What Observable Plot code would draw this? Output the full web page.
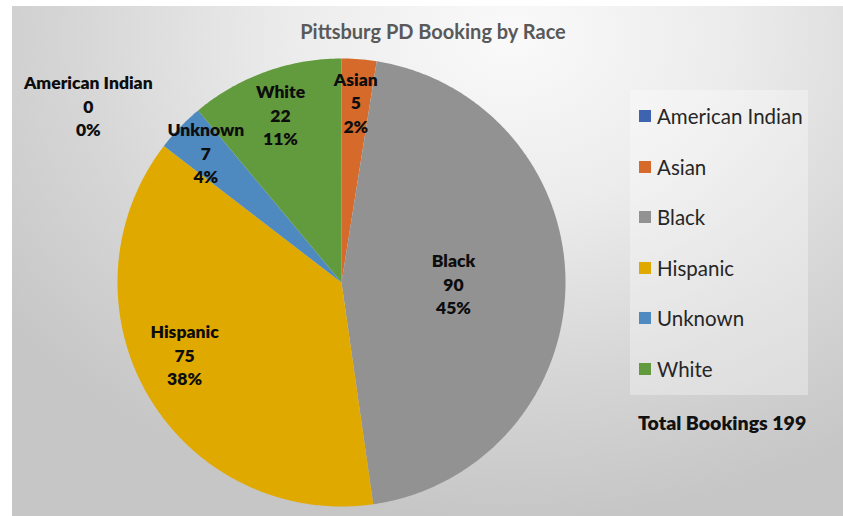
<!DOCTYPE html>
<html><head><meta charset="utf-8">
<script src="https://cdn.jsdelivr.net/npm/d3@7"></script>
<script src="https://cdn.jsdelivr.net/npm/@observablehq/plot@0.6"></script>
<style>
body{margin:0;background:#fff;font-family:Lato,"Open Sans",sans-serif}
#wrap{position:relative;width:843px;height:516px;overflow:hidden;background:#fff}
#bg{position:absolute;left:12px;top:6px;width:831px;height:510px;
  background:radial-gradient(ellipse 75% 95% at 60% 6%, #fafafa 0%, #ececec 35%, #d6d6d6 70%, #c6c6c6 100%)}
#title{position:absolute;left:233px;width:400px;top:18px;text-align:center;font-weight:700;font-size:20px;color:#595959;line-height:26px}
#chart{position:absolute;left:0;top:0}
#legend{position:absolute;left:630px;top:90px;width:178px;height:305px;background:rgba(255,255,255,.32)}
.item{position:absolute;left:9px;height:24px;display:flex;align-items:center;font-size:20.5px;color:#262626;white-space:nowrap}
.sw{width:12px;height:12px;margin-right:6px;flex:none}
#total{position:absolute;left:638px;top:410px;font-weight:800;font-size:19.5px;color:#111;white-space:nowrap;line-height:26px}
</style></head>
<body>
<div id="wrap">
  <div id="bg"></div>
  <div id="title"></div>
  <div id="chart"></div>
  <div id="legend"></div>
  <div id="total"></div>
</div>
<script>
const chartTitle = "Pittsburg PD Booking by Race";
const categories = ["American Indian", "Asian", "Black", "Hispanic", "Unknown", "White"];
const bookings = [0, 5, 90, 75, 7, 22];
const percentLabels = ["0%", "2%", "45%", "38%", "4%", "11%"];
const totalLabel = "Total Bookings 199";
const sliceColors = ["#3E63B0", "#D56A2B", "#929292", "#E0A900", "#4E89BF", "#629B3E"];

// label placement (layout only): radius factor and optional angle override (degrees clockwise from top)
const labelPlacement = {
  "American Indian": {r: 1.38, angle: 305},
  "Asian": {r: 0.81},
  "Black": {r: 0.5},
  "Hispanic": {r: 0.77, angle: 245.5},
  "Unknown": {r: 0.84},
  "White": {r: 0.80}
};

document.getElementById("title").textContent = chartTitle;
document.getElementById("total").textContent = totalLabel;

const rows = categories.map((c, i) => ({category: c, value: bookings[i], pct: percentLabels[i]}));
const arcs = d3.pie().sort(null).value(d => d.value).startAngle(0).endAngle(2 * Math.PI)(rows);

// slice polygons built from the pie angles
const slicePoints = [];
arcs.forEach(a => {
  if (a.endAngle - a.startAngle <= 0) return;
  const cat = a.data.category;
  slicePoints.push({category: cat, x: 0, y: 0});
  const n = Math.max(2, Math.ceil((a.endAngle - a.startAngle) / (Math.PI / 360)));
  for (let k = 0; k <= n; k++) {
    const t = a.startAngle + (a.endAngle - a.startAngle) * k / n;
    slicePoints.push({category: cat, x: Math.sin(t), y: Math.cos(t)});
  }
});

const labels = arcs.map(a => {
  const p = labelPlacement[a.data.category];
  const ang = p.angle != null ? p.angle * Math.PI / 180 : (a.startAngle + a.endAngle) / 2;
  return {
    category: a.data.category,
    x: p.r * Math.sin(ang),
    y: p.r * Math.cos(ang),
    text: `${a.data.category}\n${a.data.value}\n${a.data.pct}`
  };
});

const plot = Plot.plot({
  width: 843,
  height: 516,
  marginLeft: 117,
  marginRight: 278,
  marginTop: 58,
  marginBottom: 10,
  style: {background: "transparent", fontFamily: "Lato, sans-serif", overflow: "visible"},
  x: {domain: [-1, 1], axis: null},
  y: {domain: [-1, 1], axis: null},
  color: {domain: categories, range: sliceColors},
  marks: [
    Plot.line(slicePoints, {x: "x", y: "y", z: "category", fill: "category", stroke: null, curve: "linear-closed"}),
    Plot.text(labels, {x: "x", y: "y", text: "text", fontSize: 17.5, fontWeight: 800, fill: "#0d0d0d", lineHeight: 1.34})
  ]
});
document.getElementById("chart").appendChild(plot);

const legend = document.getElementById("legend");
categories.forEach((c, i) => {
  const item = document.createElement("div");
  item.className = "item";
  item.style.top = (26 + i * 50.6 - 12) + "px";
  const sw = document.createElement("span");
  sw.className = "sw";
  sw.style.background = sliceColors[i];
  item.appendChild(sw);
  item.appendChild(document.createTextNode(c));
  legend.appendChild(item);
});
</script>
</body></html>
